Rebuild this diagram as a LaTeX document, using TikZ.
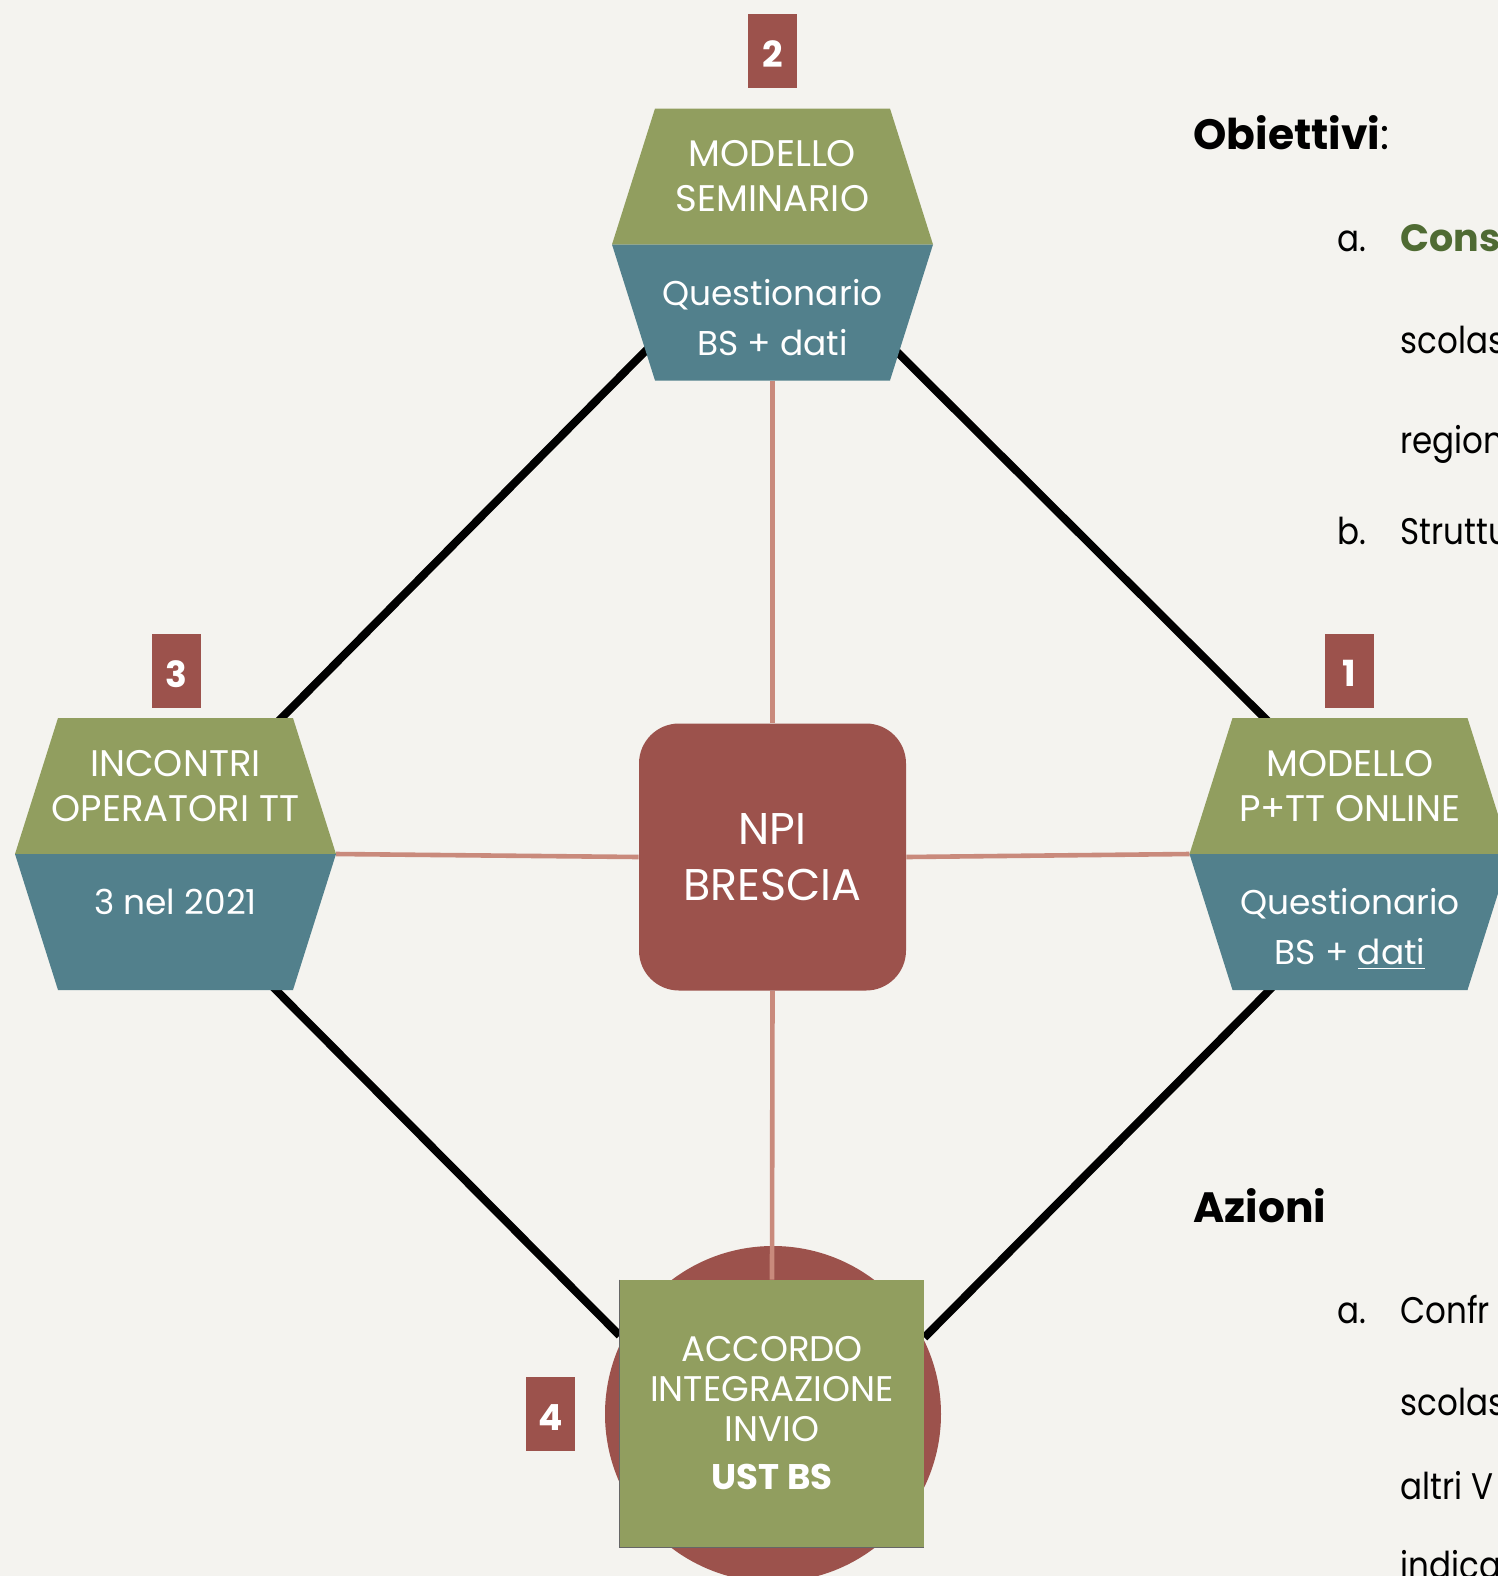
\documentclass[tikz,border=0pt]{standalone}
\usepackage{fontspec}
\setmainfont{Poppins}
\newfontfamily\bodyfamily{Poppins}[FakeStretch=0.88]
\usetikzlibrary{positioning,backgrounds}
\definecolor{paper}{HTML}{F4F3EF}
\definecolor{olive}{HTML}{919E5F}
\definecolor{teal}{HTML}{52808C}
\definecolor{brick}{HTML}{9C524C}
\definecolor{spoke}{HTML}{C98A7C}
\definecolor{title}{HTML}{4F6B33}
\newcommand{\hexfont}{\fontsize{18.5}{22.5}\selectfont}
\newcommand{\lowfont}{\fontsize{17.2}{25}\selectfont}
\newcommand{\bodyfont}{\bodyfamily\fontsize{18.5}{18.5}\selectfont}
\tikzset{
  half/.style={minimum width=160.5pt, minimum height=68pt,
    inner sep=0pt, outer sep=0pt, text=white, align=center},
  upper/.style={half, font=\hexfont},
  lower/.style={half, font=\lowfont},
  badge/.style={fill=brick, text=white, minimum width=24.5pt, minimum height=37pt,
    inner sep=0pt, text height=16pt, text depth=0pt, font=\fontsize{18}{18}\selectfont\bfseries},
  bodytext/.style={anchor=base west, inner sep=0pt, font=\bodyfont},
  headtext/.style={anchor=base west, inner sep=0pt, font=\fontsize{21.2}{21.2}\selectfont\bfseries},
  spokeline/.style={draw=spoke, line width=2.3pt},
  rimline/.style={draw=black, line width=4pt}
}
\begin{document}
\begin{tikzpicture}[x=0.5pt,y=-0.5pt]
  \useasboundingbox (0,0) rectangle (1498,1576);
  \node[upper] (top up) at (772.5,176.5) {MODELLO\\SEMINARIO};
  \node[lower, below=0pt of top up] (top low) {\rule{0pt}{18pt}Questionario\\BS + dati};
  \node[upper] (left up) at (175.5,786) {INCONTRI\\OPERATORI TT};
  \node[lower, below=0pt of left up] (left low) {\rule{0pt}{18pt}3 nel 2021\\\phantom{BS + dati}};
  \node[upper] (right up) at (1350,786) {MODELLO\\P+TT ONLINE};
  \node[lower, below=0pt of right up] (right low) {\rule{0pt}{18pt}Questionario\\BS + \smash{\underline{dati}}};
  \node[fill=brick, rounded corners=20pt, minimum size=133.5pt, inner sep=0pt, text=white, align=center,
    font=\fontsize{22.2}{28}\selectfont] (npi) at (772.5,857) {NPI\\BRESCIA};
  \node[fill=olive, minimum width=152pt, minimum height=133.5pt, inner sep=0pt, text=white, align=center,
    font=\fontsize{17.8}{20}\selectfont] (ust) at (772,1413.5) {ACCORDO\\INTEGRAZIONE\\INVIO\\[4pt]\textbf{UST BS}};
  \draw[black!60, line width=0.6pt] (ust.north west) -- (ust.south west) -- (ust.south east);
  % numbers
  \node[badge] (n2) at (772.5,51) {2};
  \node[badge] (n3) at (176,671) {3};
  \node[badge] (n1) at (1349,670.5) {1};
  \node[badge] (n4) at (550.5,1414) {4};
  % text on the right
  \node[headtext] (obj) at (1193,149) {Obiettivi\textmd{:}};
  \node[bodytext] (oa) at (1337,251) {a.};
  \node[bodytext, text=title, font=\fontsize{19}{19}\selectfont\bfseries] (oa1) at (1400,251) {Cons};
  \node[bodytext] (oa2) at (1400,353) {scolas};
  \node[bodytext] (oa3) at (1400,453) {region};
  \node[bodytext] (ob) at (1337,544) {b.};
  \node[bodytext] (ob1) at (1400,544) {Struttu};
  \node[headtext] (azi) at (1193,1222) {Azioni};
  \node[bodytext] (aa) at (1337,1323) {a.};
  \node[bodytext] (aa1) at (1400,1323) {Confr};
  \node[bodytext] (aa2) at (1400,1415) {scolas};
  \node[bodytext] (aa3) at (1400,1499) {altri V};
  \node[bodytext] (aa4) at (1400,1578) {indica};
  \begin{scope}[on background layer]
    \fill[paper] (0,0) rectangle (1498,1576);
    \node[circle, fill=brick, minimum size=168pt, inner sep=0pt] (disc) at (773,1414) {};
    % spokes
    \draw[spokeline] (top low.south) -- (npi.north);
    \draw[spokeline] (npi.south) -- (ust.north);
    \draw[spokeline] (left low.north east) -- (npi.west);
    \draw[spokeline] (npi.east) -- (right low.north west);
    % rim
    \draw[rimline] ([xshift=-40pt,yshift=4.5pt]top low.center) -- ([yshift=14.5pt]left up.south);
    \draw[rimline] ([xshift=40pt,yshift=2.5pt]top low.center) -- ([yshift=25.5pt]right up.south);
    \draw[rimline] ([yshift=-17.5pt]left low.north) -- ([yshift=39pt]ust.west);
    \draw[rimline] ([yshift=-27.5pt]right low.north) -- ([yshift=38pt]ust.east);
    % the hexagons, cut from their two halves
    \foreach \h in {top,left,right} {
      \fill[olive] ([xshift=21.5pt]\h\space up.north west) -- ([xshift=-21.5pt]\h\space up.north east)
        -- (\h\space up.south east) -- (\h\space up.south west) -- cycle;
      \fill[teal] (\h\space low.north west) -- (\h\space low.north east)
        -- ([xshift=-21.5pt]\h\space low.south east) -- ([xshift=21.5pt]\h\space low.south west) -- cycle;
    }
  \end{scope}
\end{tikzpicture}
\end{document}
